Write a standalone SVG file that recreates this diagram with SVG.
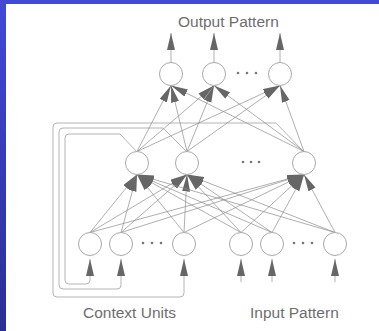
<svg xmlns="http://www.w3.org/2000/svg" width="379" height="331" viewBox="0 0 379 331">
  <defs>
    <linearGradient id="bg" x1="0" y1="0" x2="0" y2="1">
      <stop offset="0" stop-color="#4249d8"/>
      <stop offset="1" stop-color="#2a2f92"/>
    </linearGradient>
    <marker id="head" markerUnits="userSpaceOnUse" markerWidth="18" markerHeight="9" refX="17" refY="4" orient="auto">
      <path d="M0,0 L17,4 L0,8 z" fill="#666"/>
    </marker>
  </defs>
  <style>
    .unit { fill: #fff; stroke: #a8a8a8; stroke-width: 1; }
    .link { stroke: #8c8c8c; stroke-width: 0.7; fill: none; marker-end: url(#head); }
    .io { stroke: #b0b0b0; stroke-width: 1; fill: none; marker-end: url(#head); }
    .loop { stroke: #b4b4b4; stroke-width: 1; fill: none; }
    .dots { fill: #777; }
    .label { font-family: "Liberation Sans", Arial, sans-serif; font-size: 15.5px; fill: #6e6e6e; }
  </style>

  <!-- backdrop and panel -->
  <rect x="0" y="0" width="379" height="331" fill="url(#bg)"/>
  <rect x="6" y="4" width="373" height="327" fill="#fff"/>

  <!-- connectors -->
  <g id="connectors">
    <!-- recurrent copy lines: hidden units back to context units -->
    <path class="loop" d="M137,152 L120,134 H69 Q65,134 65,138 V280 Q65,284 69,284 H86 Q90,284 90,280 V274"/>
    <path class="loop" d="M187,152 L163,128 H63 Q59,128 59,132 V285 Q59,289 63,289 H117 Q121,289 121,285 V274"/>
    <path class="loop" d="M304,152 L276,123 H57 Q53,123 53,127 V293 Q53,297 57,297 H180 Q184,297 184,293 V274"/>

    <!-- external inputs and outputs -->
    <path class="io" d="M90,276 V259"/>
    <path class="io" d="M121,276 V259"/>
    <path class="io" d="M184,276 V259"/>
    <path class="io" d="M241,282 V259"/>
    <path class="io" d="M272,282 V259"/>
    <path class="io" d="M335,282 V259"/>
    <path class="io" d="M171,62 V33"/>
    <path class="io" d="M214,62 V33"/>
    <path class="io" d="M280,62 V33"/>

    <!-- input/context layer to hidden layer -->
    <path class="link" d="M90,232.5 L137,174.5"/>
    <path class="link" d="M90,232.5 L187,174.5"/>
    <path class="link" d="M90,232.5 L304,174.5"/>
    <path class="link" d="M121,232.5 L137,174.5"/>
    <path class="link" d="M121,232.5 L187,174.5"/>
    <path class="link" d="M121,232.5 L304,174.5"/>
    <path class="link" d="M184,232.5 L137,174.5"/>
    <path class="link" d="M184,232.5 L187,174.5"/>
    <path class="link" d="M184,232.5 L304,174.5"/>
    <path class="link" d="M241,232.5 L137,174.5"/>
    <path class="link" d="M241,232.5 L187,174.5"/>
    <path class="link" d="M241,232.5 L304,174.5"/>
    <path class="link" d="M272,232.5 L137,174.5"/>
    <path class="link" d="M272,232.5 L187,174.5"/>
    <path class="link" d="M272,232.5 L304,174.5"/>
    <path class="link" d="M335,232.5 L137,174.5"/>
    <path class="link" d="M335,232.5 L187,174.5"/>
    <path class="link" d="M335,232.5 L304,174.5"/>

    <!-- hidden layer to output layer -->
    <path class="link" d="M137,151.5 L171,85.5"/>
    <path class="link" d="M137,151.5 L214,85.5"/>
    <path class="link" d="M137,151.5 L280,85.5"/>
    <path class="link" d="M187,151.5 L171,85.5"/>
    <path class="link" d="M187,151.5 L214,85.5"/>
    <path class="link" d="M187,151.5 L280,85.5"/>
    <path class="link" d="M304,151.5 L171,85.5"/>
    <path class="link" d="M304,151.5 L214,85.5"/>
    <path class="link" d="M304,151.5 L280,85.5"/>
  </g>

  <!-- output layer -->
  <g id="out1"><circle class="unit" cx="171" cy="74" r="11.5"/></g>
  <g id="out2"><circle class="unit" cx="214" cy="74" r="11.5"/></g>
  <g id="out3"><circle class="unit" cx="280" cy="74" r="11.5"/></g>
  <g id="out-dots" class="dots"><circle cx="238" cy="73" r="1.3"/><circle cx="247" cy="73" r="1.3"/><circle cx="256" cy="73" r="1.3"/></g>

  <!-- hidden layer -->
  <g id="hid1"><circle class="unit" cx="137" cy="163" r="11.5"/></g>
  <g id="hid2"><circle class="unit" cx="187" cy="163" r="11.5"/></g>
  <g id="hid3"><circle class="unit" cx="304" cy="163" r="11.5"/></g>
  <g id="hid-dots" class="dots"><circle cx="243" cy="162" r="1.3"/><circle cx="251" cy="162" r="1.3"/><circle cx="259" cy="162" r="1.3"/></g>

  <!-- context units -->
  <g id="ctx1"><circle class="unit" cx="90" cy="244" r="11.5"/></g>
  <g id="ctx2"><circle class="unit" cx="121" cy="244" r="11.5"/></g>
  <g id="ctx3"><circle class="unit" cx="184" cy="244" r="11.5"/></g>
  <g id="ctx-dots" class="dots"><circle cx="143" cy="243" r="1.3"/><circle cx="152" cy="243" r="1.3"/><circle cx="161" cy="243" r="1.3"/></g>

  <!-- input units -->
  <g id="in1"><circle class="unit" cx="241" cy="244" r="11.5"/></g>
  <g id="in2"><circle class="unit" cx="272" cy="244" r="11.5"/></g>
  <g id="in3"><circle class="unit" cx="335" cy="244" r="11.5"/></g>
  <g id="in-dots" class="dots"><circle cx="294" cy="243" r="1.3"/><circle cx="303" cy="243" r="1.3"/><circle cx="312" cy="243" r="1.3"/></g>

  <!-- labels -->
  <g id="label-output"><text class="label" x="178" y="27">Output Pattern</text></g>
  <g id="label-context"><text class="label" x="83" y="318">Context Units</text></g>
  <g id="label-input"><text class="label" x="250" y="318">Input Pattern</text></g>
</svg>
